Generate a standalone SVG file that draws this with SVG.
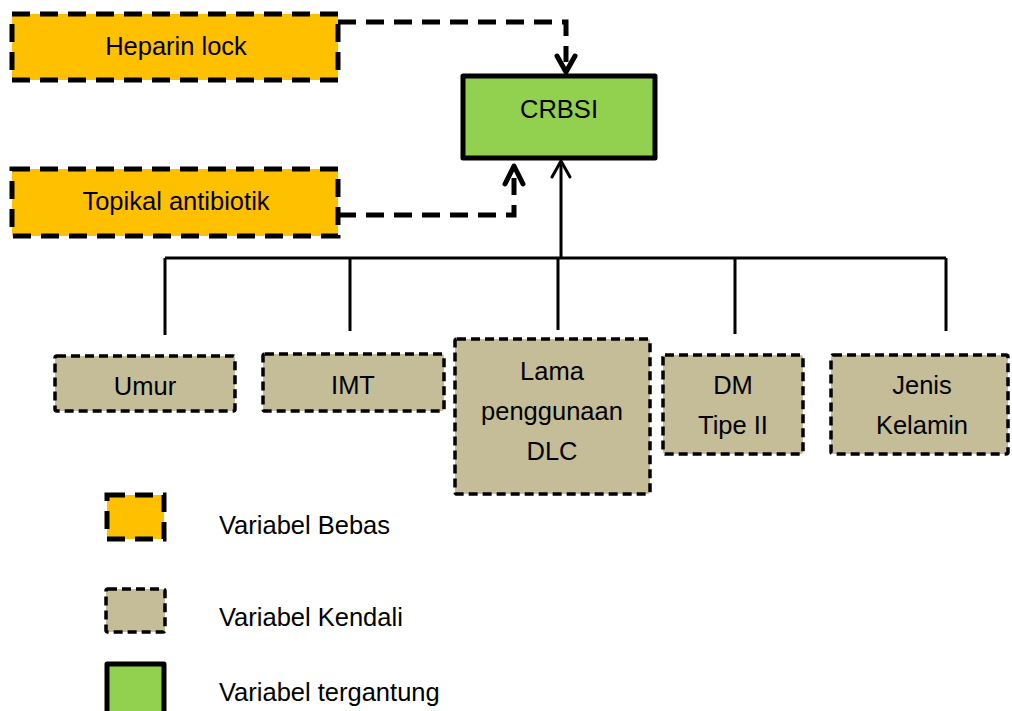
<svg xmlns="http://www.w3.org/2000/svg" width="1012" height="711" viewBox="0 0 1012 711">
<style>
text{font-family:"Liberation Sans",Arial,sans-serif;font-size:25.5px;fill:#000;text-anchor:middle}
.bebas{fill:#FFC000;stroke:#000;stroke-width:5;stroke-dasharray:18 10}
.kendali{fill:#C4BD97;stroke:#000;stroke-width:3.5;stroke-dasharray:9 5}
.dep{fill:#92D050;stroke:#000;stroke-width:5;stroke-linejoin:round}
.dash{fill:none;stroke:#000;stroke-width:5;stroke-dasharray:18 10}
.solid{fill:none;stroke:#000;stroke-width:3}
.ah{fill:none;stroke:#000;stroke-linecap:round;stroke-linejoin:round}
.leg{text-anchor:start}
</style>
<g id="connectors">
<path class="dash" d="M338,22 H566 V62"/>
<path class="ah" stroke-width="5" d="M557,56 L566,72 L575,56"/>
<path class="dash" d="M338,215 H514 V178"/>
<path class="ah" stroke-width="5" d="M505,184 L514,166 L523,184"/>
<path class="solid" d="M561,258 V161"/>
<path class="ah" stroke-width="3" d="M552,177 L561,161 L570,177"/>
<path class="solid" d="M165,258 H946"/>
<path class="solid" d="M165,258 V335 M350,258 V331 M558,258 V330 M735,258 V334 M946,258 V331"/>
</g>
<g id="heparin">
<rect class="bebas" x="12" y="14" width="326" height="66"/>
<text x="176" y="55">Heparin lock</text>
</g>
<g id="topikal">
<rect class="bebas" x="12" y="169" width="326" height="67"/>
<text x="176" y="210">Topikal antibiotik</text>
</g>
<g id="crbsi">
<rect class="dep" x="463" y="76" width="192" height="82"/>
<text x="559" y="118">CRBSI</text>
</g>
<g id="umur">
<rect class="kendali" x="55" y="356" width="180" height="55" rx="2"/>
<text x="145" y="395">Umur</text>
</g>
<g id="imt">
<rect class="kendali" x="263" y="354" width="181" height="57" rx="2"/>
<text x="353" y="394">IMT</text>
</g>
<g id="lama">
<rect class="kendali" x="455" y="339" width="195" height="155" rx="2"/>
<text x="552" y="380">Lama</text>
<text x="552" y="420">penggunaan</text>
<text x="552" y="460">DLC</text>
</g>
<g id="dm">
<rect class="kendali" x="663" y="355" width="140" height="99" rx="2"/>
<text x="733" y="394">DM</text>
<text x="733" y="434">Tipe II</text>
</g>
<g id="jenis">
<rect class="kendali" x="831" y="355" width="177" height="99" rx="2"/>
<text x="922" y="394">Jenis</text>
<text x="922" y="434">Kelamin</text>
</g>
<g id="legend">
<rect class="bebas" x="107" y="495" width="57" height="44"/>
<text class="leg" x="219" y="534">Variabel Bebas</text>
<rect class="kendali" x="106" y="589" width="59" height="43" rx="2"/>
<text class="leg" x="219" y="626">Variabel Kendali</text>
<rect class="dep" x="107" y="664" width="57" height="50"/>
<text class="leg" x="219" y="701">Variabel tergantung</text>
</g>
</svg>
